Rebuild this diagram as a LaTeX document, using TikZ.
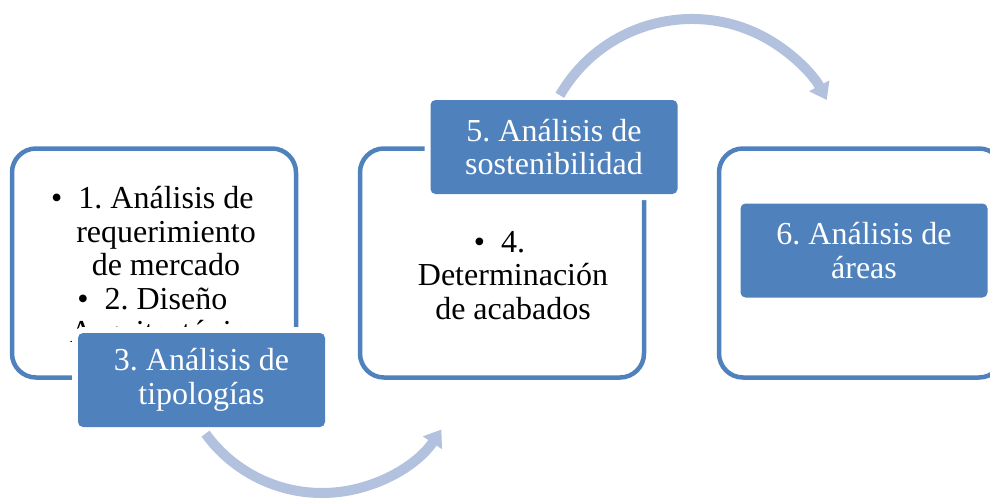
\documentclass[tikz,border=0pt]{standalone}
\usepackage{fontspec}
\setmainfont{Liberation Serif}
\usepackage{tikz}
\usetikzlibrary{arrows.meta,positioning,calc}
\definecolor{boxblue}{RGB}{79,129,189}
\definecolor{flowblue}{RGB}{178,194,222}
\frenchspacing

\begin{document}
\begin{tikzpicture}[
  x=0.5pt, y=0.5pt,
  frame/.style={draw=boxblue, line width=2.25pt, fill=white, rounded corners=12pt,
    minimum width=142pt, minimum height=114.5pt},
  task/.style={fill=boxblue, text=white, rounded corners=2.5pt,
    preaction={draw=white, line width=6pt},
    minimum width=123.5pt, minimum height=47pt, align=center,
    font=\fontsize{16}{16.75}\selectfont},
  body/.style={align=center, font=\fontsize{16}{16.75}\selectfont},
  flow/.style={draw=flowblue, line width=5pt, -{Triangle[length=8pt, width=11pt]}}
]
\path[use as bounding box, clip] (0,0) rectangle (990,500);

\node[frame] (f1)   at (154, 237)   {};
\node[body]  (t1)   at (166, 232)   {\llap{•\hspace{8pt}}1. Análisis de\\requerimiento\\de mercado\\\llap{•\hspace{8pt}}2. Diseño\\Arquitectónico};
\node[task]  (tip)  at (201.5, 120) {3. Análisis de\\tipologías};

\node[frame] (f2)   at (502, 237)   {};
\node[body]  (t2)   at (513, 224.5) {\llap{•\hspace{8pt}}4.\\Determinación\\de acabados};
\node[task]  (sost) at (554, 353)   {5. Análisis de\\sostenibilidad};

\node[frame] (f3)   at (861, 237)   {};
\node[task]  (area) at (864, 249.5) {6. Análisis de\\áreas};

\coordinate (s1) at ($(322,151)+(216:144)$);
\coordinate (s2) at ($(692,328.4)+(150:152.6)$);
\draw[flow] (s1) arc[start angle=216, end angle=326, radius=144];
\draw[flow] (s2) arc[start angle=150, end angle=28, radius=152.6];
\end{tikzpicture}
\end{document}
